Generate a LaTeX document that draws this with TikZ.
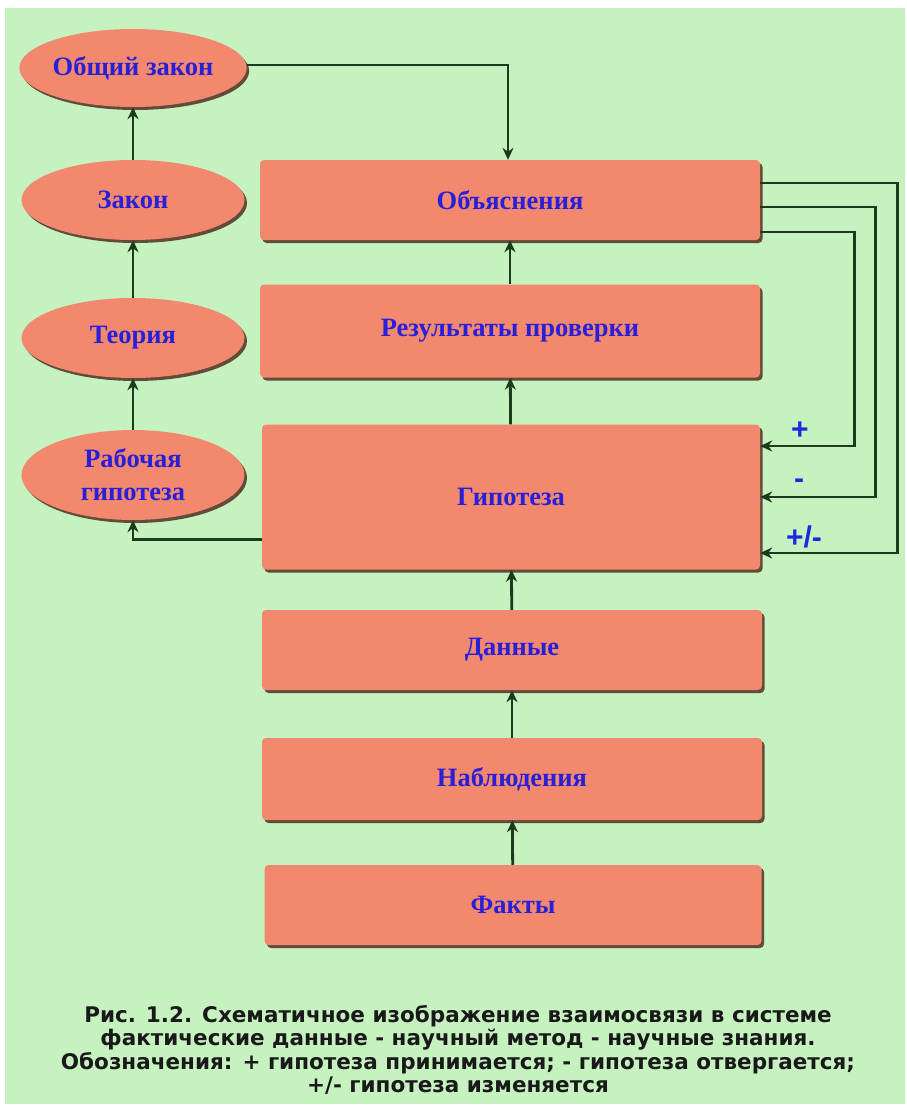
\documentclass[tikz,border=0pt]{standalone}
\usepackage{fontspec}
\setmainfont{Liberation Serif}
\newfontfamily\capfont{DejaVu Sans}
\newfontfamily\labfont{Liberation Sans}
\usetikzlibrary{shapes.geometric,shadows,arrows.meta}
\definecolor{bg}{HTML}{C6F2C0}
\definecolor{boxc}{HTML}{F2896F}
\definecolor{txt}{HTML}{2A1FD8}
\definecolor{lbl}{HTML}{1A2AE0}
\definecolor{ln}{HTML}{1C3A1C}
\definecolor{shd}{HTML}{4A2216}
\begin{document}
\begin{tikzpicture}[x=1pt,y=-1pt,
  shadowed/.style={drop shadow={shadow xshift=2.5pt, shadow yshift=-3pt, fill=shd, opacity=0.8}},
  stepbox/.style={rectangle, rounded corners=4pt, fill=boxc, shadowed, inner sep=0pt,
    font=\bfseries\fontsize{26.5}{28}\selectfont, text=txt},
  oval/.style={ellipse, fill=boxc, shadowed, inner sep=0pt, minimum width=223pt,
    align=center, font=\bfseries\fontsize{26.5}{28}\selectfont, text=txt},
  arr/.style={draw=ln, line width=2.8pt, -{Stealth[length=12pt,width=11pt]}},
  sign/.style={font=\labfont\bfseries\fontsize{30}{30}\selectfont, text=lbl}
]
\fill[white] (0,0) rectangle (907,1106);
\fill[bg] (5,8) rectangle (905,1104);
\useasboundingbox (0,0) rectangle (907,1106);

% boxes
\node[stepbox, minimum width=500pt, minimum height=80pt] (obj) at (510,200) {Объяснения};
\node[stepbox, minimum width=500pt, minimum height=93pt] (res) at (510,331) {Результаты проверки};
\node[stepbox, minimum width=498pt, minimum height=145pt] (gip) at (511,497) {Гипотеза};
\node[stepbox, minimum width=500pt, minimum height=80pt] (dan) at (512,650) {Данные};
\node[stepbox, minimum width=500pt, minimum height=82pt] (nab) at (512,779) {Наблюдения};
\node[stepbox, minimum width=497pt, minimum height=80pt] (fac) at (513,905) {Факты};

% ellipses
\node[oval, minimum height=78pt] (oz) at (133,68) {Общий закон};
\node[oval, minimum height=80pt] (zak) at (133,200) {Закон};
\node[oval, minimum height=80pt] (teo) at (133,338) {Теория};
\node[oval, minimum height=90pt] (rab) at (133,475) {Рабочая\\[5pt]гипотеза};

% vertical arrows
\draw[arr] (fac) -- (nab);
\draw[arr] (nab) -- (dan);
\draw[arr] (dan) -- (gip);
\draw[arr] (gip) -- (res);
\draw[arr] (res) -- (obj);
\draw[arr] (rab) -- (teo);
\draw[arr] (teo) -- (zak);
\draw[arr] (zak) -- (oz);

% general law to explanations
\draw[arr] ([yshift=3pt]oz.east) -| ([xshift=-2pt]obj.north);

% hypothesis to working hypothesis
\draw[arr] ([yshift=30pt]gip.south west) -| (rab.south);

% feedback lines
\draw[arr] ([yshift=17pt]obj.east) -- ++(137,0) |- ([yshift=-56pt]gip.east);
\draw[arr] ([yshift=-7pt]obj.east) -- ++(115,0) |- (gip.east);
\draw[arr] ([yshift=-32pt]obj.east) -- ++(94,0) |- ([yshift=51pt]gip.east);

\node[sign] (plus) at (800,431) {+};
\node[sign] (minus) at (799,484) {-};
\node[sign] (pm) at (804,537) {+/-};

% caption
\node[align=center, text=black!90, font=\capfont\bfseries\fontsize{21.5}{23.5}\selectfont] (cap) at (458,1050)
{Рис. 1.2. Схематичное изображение взаимосвязи в системе\\
фактические данные - научный метод - научные знания.\\
Обозначения: + гипотеза принимается; - гипотеза отвергается;\\
+/- гипотеза изменяется};
\end{tikzpicture}
\end{document}
